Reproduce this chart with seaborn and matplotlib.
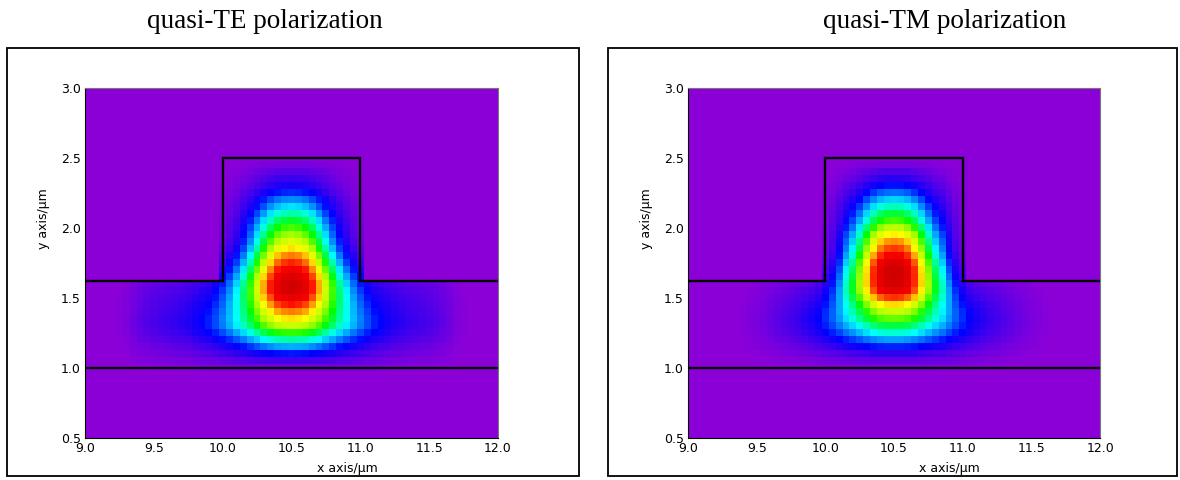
"""
Rib waveguide mode profiles (quasi-TE / quasi-TM), redrawn as seaborn heatmaps.
"""
import numpy as np
import pandas as pd
import matplotlib
matplotlib.use("Agg")
import matplotlib.pyplot as plt
from matplotlib.colors import LinearSegmentedColormap
from matplotlib.patches import Rectangle
import seaborn as sns

STEP = 0.05
X_MIN, X_MAX = 9.0, 12.0
Y_MIN, Y_MAX = 0.5, 3.0

TITLES = ["quasi-TE polarization", "quasi-TM polarization"]
X_TICKS = [9.0, 9.5, 10.0, 10.5, 11.0, 11.5, 12.0]
Y_TICKS = [0.5, 1.0, 1.5, 2.0, 2.5, 3.0]

# waveguide geometry (um)
RIB_LEFT, RIB_RIGHT, RIB_TOP = 10.0, 11.0, 2.5
SLAB_TOP = 1.62
SUBSTRATE = 1.0
RIB_X = [X_MIN, RIB_LEFT, RIB_LEFT, RIB_RIGHT, RIB_RIGHT, X_MAX]
RIB_Y = [SLAB_TOP, SLAB_TOP, RIB_TOP, RIB_TOP, SLAB_TOP, SLAB_TOP]
SUB_X = [X_MIN, X_MAX]
SUB_Y = [SUBSTRATE, SUBSTRATE]

# field profiles, one value every 0.05 um
# y profiles all start at y = 1.0
TE_RIB_X0 = 9.9
TE_RIB_X = [0, .02, .06, .12, .20, .30, .42, .56, .70, .83, .93, .98, 1.0,
            .98, .93, .83, .70, .56, .42, .30, .20, .12, .06, .02, 0]
TE_RIB_Y = [0, .02, .07, .12, .16, .22, .29, .37, .46, .56, .66, .745, .79, .80,
            .79, .77, .74, .695, .65, .60, .54, .48, .41, .34, .28, .21, .15,
            .11, .07, .03, 0]
TE_SLAB_X0 = 9.2
TE_SLAB_X = [0, .01, .02, .04, .06, .075, .085, .095, .105, .115, .125, .14,
             .16, .18, .20, .225, .25, .27, .29, .305, .32, .33, .34, .345,
             .35, .35, .35, .35, .35, .345, .34, .33, .32, .305, .29, .27,
             .25, .225, .20, .18, .16, .14, .125, .115, .105, .095, .085,
             .075, .06, .04, .02, .01, 0]
TE_SLAB_Y = [.10, .22, .36, .52, .72, .88, 1.0, 1.0, .95, .88, .80, .70, .60,
             .48, .36, .25, .15, .07, .02]

TM_RIB_X0 = 9.9
TM_RIB_X = [0, .01, .05, .11, .20, .32, .42, .55, .70, .84, .94, .99, 1.0,
            .99, .94, .84, .70, .55, .42, .32, .20, .11, .05, .01, 0]
TM_RIB_Y = [0, .01, .03, .06, .09, .13, .18, .26, .35, .47, .63, .775, .855, .905,
            .94, .94, .89, .84, .78, .71, .62, .54, .47, .40, .33, .26, .19,
            .13, .08, .03, 0]
TM_SLAB_X0 = 9.35
TM_SLAB_X = [0, .01, .017, .025, .037, .05, .065, .08, .095, .11, .13, .15,
             .175, .20, .22, .24, .255, .27, .28, .29, .295, .30, .30, .30,
             .30, .30, .295, .29, .28, .27, .255, .24, .22, .20, .175, .15,
             .13, .11, .095, .08, .065, .05, .037, .025, .017, .01, 0]
TM_SLAB_Y = [.06, .16, .30, .48, .68, .85, .96, 1.0, .95, .85, .72, .58, .45,
             .32, .20, .10, .04]

xs = np.round(np.arange(X_MIN, X_MAX + STEP / 2, STEP), 2)
ys = np.round(np.arange(Y_MIN, Y_MAX + STEP / 2, STEP), 2)


def on_grid(values, start, grid):
    out = np.zeros(len(grid))
    i = int(round((start - grid[0]) / STEP))
    out[i:i + len(values)] = values
    return out


def mode_field(rib_x, rib_x0, rib_y, slab_x, slab_x0, slab_y):
    f = np.outer(on_grid(rib_y, SUBSTRATE, ys), on_grid(rib_x, rib_x0, xs))
    f += np.outer(on_grid(slab_y, SUBSTRATE, ys), on_grid(slab_x, slab_x0, xs))
    # air above the slab, beside the rib
    air = (ys[:, None] > SLAB_TOP) & ((xs[None, :] < RIB_LEFT) | (xs[None, :] > RIB_RIGHT))
    f[air] = 0
    return np.clip(f, 0, 1)


def xpos(x):
    return (np.asarray(x) - X_MIN) / STEP + 0.5


def ypos(y):
    return (Y_MAX - np.asarray(y)) / STEP + 0.5


fields = [
    mode_field(TE_RIB_X, TE_RIB_X0, TE_RIB_Y, TE_SLAB_X, TE_SLAB_X0, TE_SLAB_Y),
    mode_field(TM_RIB_X, TM_RIB_X0, TM_RIB_Y, TM_SLAB_X, TM_SLAB_X0, TM_SLAB_Y),
]

cmap = LinearSegmentedColormap.from_list("idl_rainbow", [
    (0.00, "#8c00d8"),
    (0.18, "#0000ff"),
    (0.27, "#0080ff"),
    (0.36, "#00ffff"),
    (0.43, "#00ff80"),
    (0.50, "#00ff00"),
    (0.60, "#a8ff00"),
    (0.70, "#ffff00"),
    (0.78, "#ff8c00"),
    (0.88, "#ff0000"),
    (1.00, "#d00000"),
])

sns.set_style("white")
plt.rcParams["font.family"] = ["DejaVu Sans"]
plt.rcParams["text.color"] = "black"
plt.rcParams["axes.labelcolor"] = "black"

fig = plt.figure(figsize=(11.8, 4.8), dpi=100)

ax_pos = [[0.0720, 0.0875, 0.3500, 0.7292], [0.5831, 0.0875, 0.3492, 0.7292]]
frame_pos = [[0.0059, 0.0083, 0.4847, 0.8917], [0.5153, 0.0083, 0.4822, 0.8917]]
title_x = [0.2246, 0.8008]

for k in range(2):
    ax = fig.add_axes(ax_pos[k])
    df = pd.DataFrame(fields[k][::-1], index=ys[::-1], columns=xs)
    sns.heatmap(df, ax=ax, cmap=cmap, vmin=0, vmax=1, cbar=False,
                xticklabels=False, yticklabels=False)
    ax.plot(xpos(RIB_X), ypos(RIB_Y), color="black", lw=1.7, solid_joinstyle="miter")
    ax.plot(xpos(SUB_X), ypos(SUB_Y), color="black", lw=1.7)
    ax.set_xlim(xpos(X_MIN), xpos(X_MAX))
    ax.set_ylim(ypos(Y_MIN), ypos(Y_MAX))

    ax.set_xticks(xpos(X_TICKS))
    ax.set_xticklabels([f"{v:.1f}" for v in X_TICKS])
    ax.set_yticks(ypos(Y_TICKS))
    ax.set_yticklabels([f"{v:.1f}" for v in Y_TICKS], rotation=0)
    ax.tick_params(direction="in", length=3, width=0.6, labelsize=9, pad=3,
                   colors="black")
    ax.set_xlabel("x axis/µm", fontsize=9, labelpad=0)
    ax.set_ylabel("y axis/µm", fontsize=9, labelpad=0)
    ax.xaxis.set_label_coords(0.635, -0.068)
    ax.yaxis.set_label_coords(-0.085, 0.626)
    for side, s in ax.spines.items():
        s.set_visible(True)
        s.set_linewidth(0.8)
        s.set_color("black" if side in ("left", "bottom") else "#777777")

    fig.add_artist(Rectangle(frame_pos[k][:2], frame_pos[k][2], frame_pos[k][3],
                             transform=fig.transFigure, fill=False,
                             ec="black", lw=1.3))
    fig.text(title_x[k], 0.956, TITLES[k], ha="center", va="center",
             fontsize=19.5, color="black",
             family=["Liberation Serif", "DejaVu Serif"])

fig.savefig("out.png", dpi=100)
